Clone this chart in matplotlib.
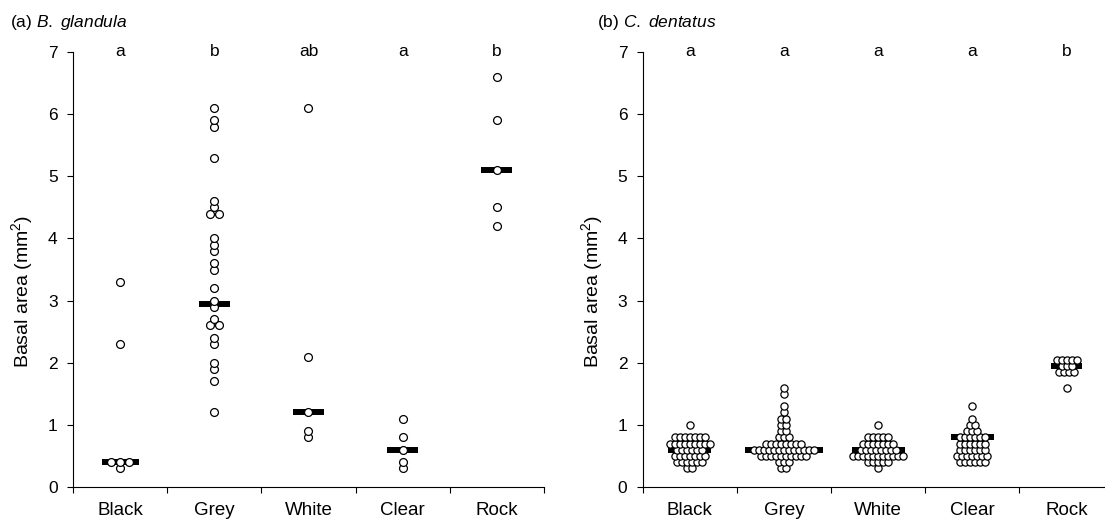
import matplotlib
matplotlib.use("Agg")
import matplotlib.pyplot as plt
import numpy as np

plt.rcParams["font.family"] = ["Liberation Sans", "DejaVu Sans"]
plt.rcParams["mathtext.fontset"] = "custom"
plt.rcParams["mathtext.rm"] = "Liberation Sans"
plt.rcParams["mathtext.it"] = "Liberation Sans:italic"

categories = ["Black", "Grey", "White", "Clear", "Rock"]

# (a) B. glandula: one value per individual
a_black = [0.3, 0.4, 0.4, 0.4, 2.3, 3.3]
a_grey = [1.2, 1.7, 1.9, 2.0, 2.3, 2.4, 2.6, 2.6, 2.7, 2.9, 3.0, 3.2, 3.5,
          3.6, 3.8, 3.9, 4.0, 4.4, 4.4, 4.5, 4.6, 5.3, 5.8, 5.9, 6.1]
a_white = [0.8, 0.9, 1.2, 2.1, 6.1]
a_clear = [0.3, 0.4, 0.6, 0.8, 1.1]
a_rock = [4.2, 4.5, 5.1, 5.9, 6.6]
a_medians = [0.4, 2.95, 1.2, 0.6, 5.1]
a_letters = ["a", "b", "ab", "a", "b"]

# (b) C. dentatus: values with number of individuals at each value
b_black_vals = [1.0, 0.8, 0.7, 0.6, 0.5, 0.4, 0.3]
b_black_counts = [1, 7, 9, 6, 7, 6, 2]
b_grey_vals = [1.6, 1.5, 1.3, 1.2, 1.1, 1.0, 0.9, 0.8, 0.7, 0.6, 0.5, 0.4, 0.3]
b_grey_counts = [1, 1, 1, 1, 2, 2, 2, 3, 8, 13, 10, 3, 2]
b_white_vals = [1.0, 0.8, 0.7, 0.6, 0.5, 0.4, 0.3]
b_white_counts = [1, 5, 7, 8, 11, 5, 1]
b_clear_vals = [1.3, 1.1, 1.0, 0.9, 0.8, 0.7, 0.6, 0.5, 0.4]
b_clear_counts = [1, 1, 2, 3, 6, 6, 6, 7, 6]
b_rock_vals = [2.05, 1.95, 1.85, 1.6]
b_rock_counts = [5, 3, 4, 1]
b_medians = [0.6, 0.6, 0.6, 0.8, 1.95]
b_letters = ["a", "a", "a", "a", "b"]

FIG_W, FIG_H = 1105, 520
AX_W = 0.4262
PX_PER_X = FIG_W * AX_W / 5


def expand(vals, counts):
    return np.repeat(vals, counts)


def draw_group(ax, values, median, x0, dx_px, diam_px, msize):
    vals = np.sort(np.asarray(values, float))
    xs = np.empty_like(vals)
    dx = dx_px / PX_PER_X
    for v in np.unique(vals):
        idx = np.where(np.isclose(vals, v))[0]
        n = len(idx)
        xs[idx] = x0 + (np.arange(n) - (n - 1) / 2) * dx
    # bar width follows the row of points at the median
    near = vals[np.argmin(np.abs(vals - median))]
    n_row = np.sum(np.isclose(vals, near))
    half_px = max(15.5, ((n_row - 1) * dx_px + diam_px) / 2 + 6)
    half = half_px / PX_PER_X
    ax.hlines(median, x0 - half, x0 + half, color="black", lw=4.3, zorder=2)
    ax.scatter(xs, vals, s=msize, facecolor="white", edgecolor="black",
               linewidth=0.9, zorder=3, clip_on=False)


def style_axes(ax, letters, label_x):
    ax.set_xlim(0, 5)
    ax.set_ylim(0, 7)
    ax.set_xticks(np.arange(6))
    ax.set_xticklabels([])
    ax.set_xticks(np.arange(5) + 0.5, minor=True)
    ax.set_xticklabels(categories, minor=True, fontsize=13.5)
    ax.tick_params(axis="x", which="minor", length=0, pad=11)
    ax.tick_params(axis="x", which="major", length=4, width=0.8)
    ax.set_yticks(np.arange(8))
    ax.tick_params(axis="y", length=4, width=0.8, pad=7, labelsize=12.5)
    for s in ["top", "right"]:
        ax.spines[s].set_visible(False)
    for s in ["left", "bottom"]:
        ax.spines[s].set_linewidth(0.8)
    ax.set_ylabel("Basal area (mm$^{2}$)", fontsize=14)
    ax.yaxis.set_label_coords(label_x, 0.45)
    for i, t in enumerate(letters):
        ax.text(i + 0.5, 7, t, ha="center", va="center", fontsize=12.5,
                clip_on=False)


fig = plt.figure(figsize=(FIG_W / 100, FIG_H / 100), dpi=100)
ax_a = fig.add_axes([73 / FIG_W, 33 / FIG_H, AX_W, 435 / FIG_H])
ax_b = fig.add_axes([642.7 / FIG_W, 33 / FIG_H, AX_W, 435 / FIG_H])

a_groups = [a_black, a_grey, a_white, a_clear, a_rock]
for i, g in enumerate(a_groups):
    draw_group(ax_a, g, a_medians[i], i + 0.5, 9.0, 7.0, 32)

b_groups = [expand(b_black_vals, b_black_counts),
            expand(b_grey_vals, b_grey_counts),
            expand(b_white_vals, b_white_counts),
            expand(b_clear_vals, b_clear_counts),
            expand(b_rock_vals, b_rock_counts)]
for i, g in enumerate(b_groups):
    draw_group(ax_b, g, b_medians[i], i + 0.5, 5.0, 6.3, 27)

style_axes(ax_a, a_letters, -38 / (FIG_W * AX_W))
style_axes(ax_b, b_letters, -38 / (FIG_W * AX_W))

fig.text(10 / FIG_W, 1 - 22 / FIG_H, r"(a) $\it{B.\ glandula}$", fontsize=12.5,
         va="center", ha="left")
fig.text(597 / FIG_W, 1 - 22 / FIG_H, r"(b) $\it{C.\ dentatus}$", fontsize=12.5,
         va="center", ha="left")

fig.savefig("out.png", dpi=100)
